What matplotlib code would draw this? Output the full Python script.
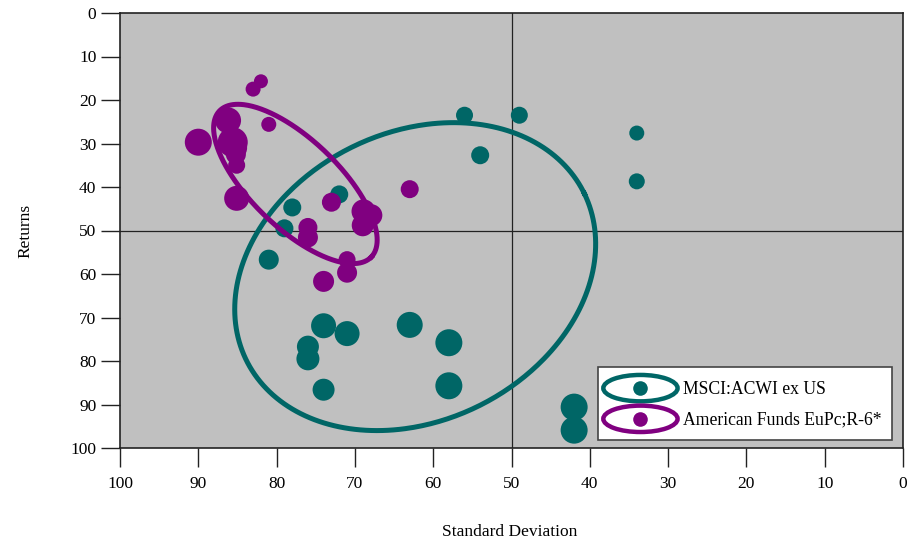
import numpy as np
import matplotlib
matplotlib.use("Agg")
import matplotlib.pyplot as plt
from matplotlib.patches import Ellipse
from matplotlib.lines import Line2D
from matplotlib.legend_handler import HandlerBase

plt.rcParams['font.family'] = ['Liberation Serif', 'DejaVu Serif']

# ---- data ----
msci_sd = [56, 49, 54, 34, 34, 72, 78, 79, 81, 74, 71, 76, 76, 74, 63, 58, 58, 42, 42]
msci_ret = [23.5, 23.5, 32.7, 27.6, 38.7, 41.7, 44.7, 49.5, 56.7, 71.9, 73.7, 76.7, 79.5, 86.6, 71.7, 75.8, 85.7, 90.6, 95.9]
msci_size = [17, 17, 18, 15, 16, 18, 18, 18, 20, 25, 25, 22, 23, 22, 26, 27, 27, 27, 27]

amf_sd = [82, 83, 81, 90, 86.2, 85.6, 85.3, 85.2, 85.1, 85.1, 73, 63, 68.9, 67.9, 69, 76, 76, 71, 71, 74]
amf_ret = [15.7, 17.5, 25.6, 29.7, 24.7, 29.7, 31.0, 32.5, 35.0, 42.6, 43.5, 40.5, 45.6, 46.5, 48.8, 49.3, 51.6, 56.7, 59.7, 61.7]
amf_size = [14, 15, 15, 27, 26, 30, 24, 20, 17, 25, 19, 18, 24, 22, 22, 19, 20, 17, 20, 21]

# ellipses: center, major conjugate vector, minor conjugate vector (data units)
msci_ell_center = (62.3, 60.6)
msci_ell_u = (-21.6, -19.1)
msci_ell_v = (-8.04, 29.8)
amf_ell_center = (77.6, 39.3)
amf_ell_u = (-9.70, 16.78)
amf_ell_v = (3.87, 7.33)

series_names = ['MSCI:ACWI ex US', 'American Funds EuPc;R-6*']
x_ticks = [100, 90, 80, 70, 60, 50, 40, 30, 20, 10, 0]
y_ticks = [0, 10, 20, 30, 40, 50, 60, 70, 80, 90, 100]

teal = '#006666'
purple = '#800080'
FS = 12.5

fig = plt.figure(figsize=(9.21, 5.43), dpi=100)
ax = fig.add_axes([120/921, 95/543, 783/921, 435/543])
ax.set_facecolor('#C0C0C0')
ax.set_xlim(100, 0)
ax.set_ylim(100, 0)

px2pt = 0.72
ax.axvline(50, color='#222222', lw=0.9, zorder=1)
ax.axhline(50, color='#222222', lw=0.9, zorder=1)

def ell_curve(c, u, v):
    t = np.linspace(0, 2*np.pi, 400)
    x = c[0] + u[0]*np.cos(t) + v[0]*np.sin(t)
    y = c[1] + u[1]*np.cos(t) + v[1]*np.sin(t)
    return x, y

ax.scatter(msci_sd, msci_ret, s=[(d*px2pt)**2 for d in msci_size], color=teal,
           edgecolors='none', zorder=3)
ex, ey = ell_curve(msci_ell_center, msci_ell_u, msci_ell_v)
ax.plot(ex, ey, color=teal, lw=3.6, zorder=4)
ex, ey = ell_curve(amf_ell_center, amf_ell_u, amf_ell_v)
ax.plot(ex, ey, color=purple, lw=3.6, zorder=5)
ax.scatter(amf_sd, amf_ret, s=[(d*px2pt)**2 for d in amf_size], color=purple,
           edgecolors='none', zorder=6)

ax.set_xticks(x_ticks)
ax.set_yticks(y_ticks)
ax.tick_params(axis='both', direction='out', length=14, width=1, labelsize=FS,
               pad=3, color='#222222')
ax.tick_params(axis='x', pad=6)
for s in ax.spines.values():
    s.set_color('#222222')
    s.set_linewidth(1.2)

fig.text(510/921, 1 - 532/543, 'Standard Deviation', fontsize=FS, ha='center', va='center')
fig.text(25/921, 1 - 231/543, 'Returns', fontsize=FS, ha='center', va='center', rotation=90)

class EllipseDot(HandlerBase):
    def create_artists(self, legend, orig_handle, xdescent, ydescent, width, height, fontsize, trans):
        c = orig_handle.get_color()
        cx = width/2 - xdescent
        cy = height/2 - ydescent
        e = Ellipse((cx, cy), 53.5, 19.0, fill=False, edgecolor=c, lw=3.2, transform=trans)
        d = Line2D([cx], [cy], marker='o', markersize=10.5, color=c, markeredgewidth=0, transform=trans)
        return [e, d]

handles = [Line2D([], [], color=teal), Line2D([], [], color=purple)]
leg = ax.legend(handles, series_names, handler_map={Line2D: EllipseDot()},
                loc='lower right', bbox_to_anchor=(0.9865, 0.018), fontsize=12.7,
                handlelength=3.65, handleheight=1.5, handletextpad=0.6,
                labelspacing=0.52, borderpad=0.6, borderaxespad=0,
                frameon=True, fancybox=False, framealpha=1)
leg.get_frame().set_edgecolor('#444444')
leg.get_frame().set_linewidth(1.2)
leg.set_zorder(10)

fig.savefig('out.png', dpi=100)
